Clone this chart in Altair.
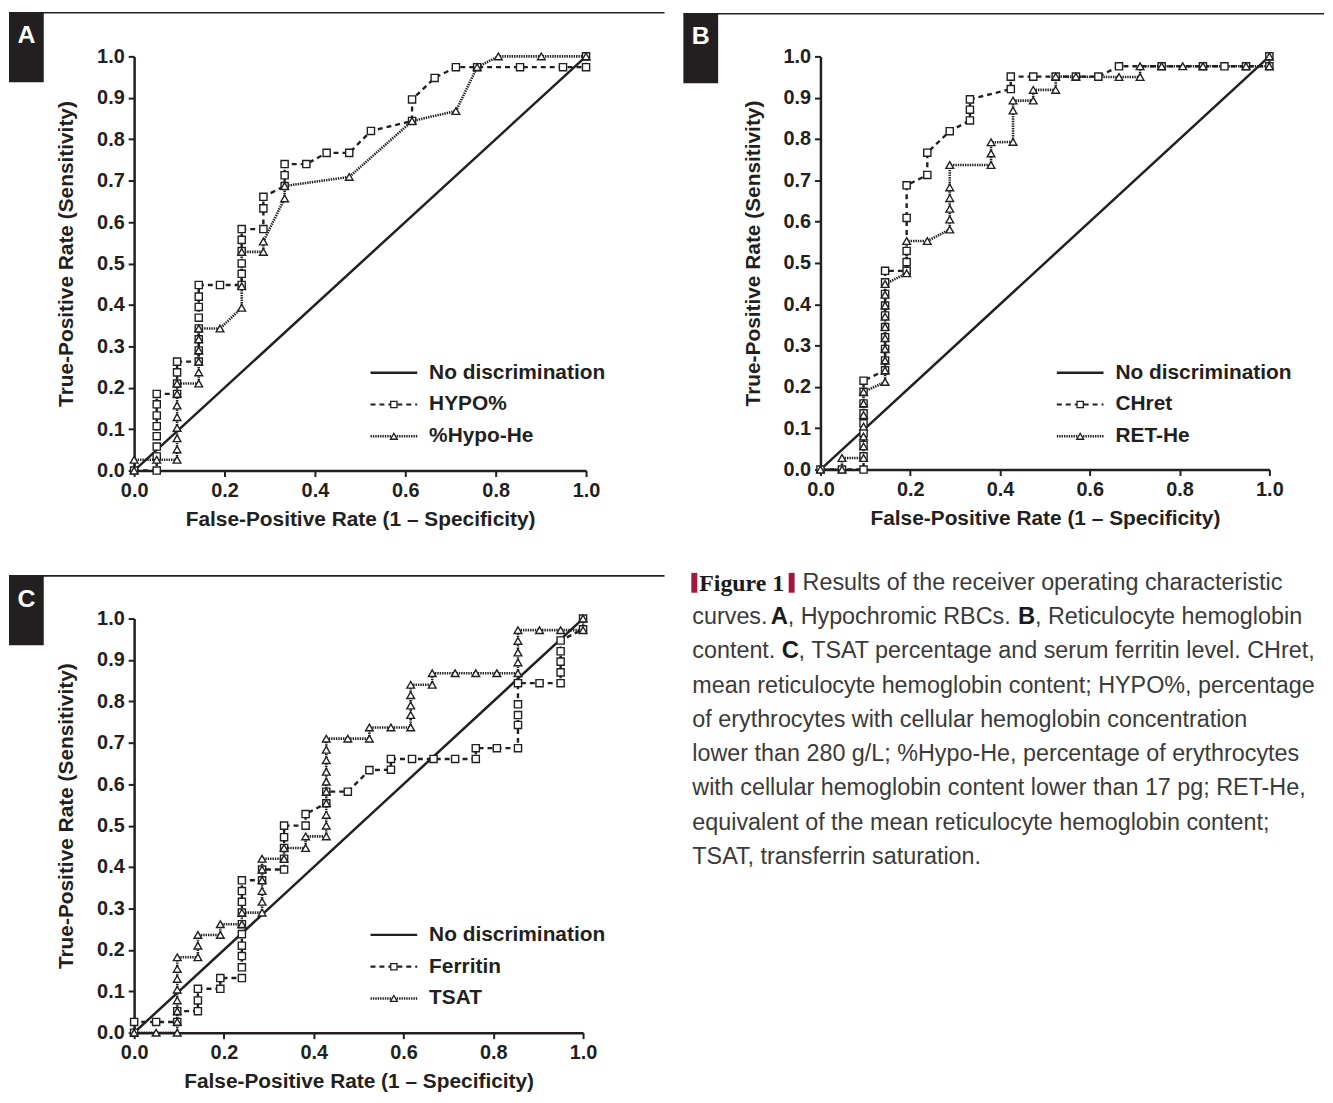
import altair as alt
import pandas as pd

INK = "#231f20"
FONT = "Liberation Sans"
CAP_COLOR = "#3a3a3a"
BAR_COLOR = "#a3193a"

# ---------------- data ----------------
diag_x = [0.0, 1.0]
diag_y = [0.0, 1.0]

# Panel A
a_hypo_x = [0.0, 0.05, 0.05, 0.05, 0.05, 0.05, 0.05, 0.05, 0.05, 0.095, 0.095, 0.095, 0.095,
            0.143, 0.143, 0.143, 0.143, 0.143, 0.143, 0.143, 0.143, 0.19, 0.238, 0.238, 0.238,
            0.238, 0.238, 0.238, 0.286, 0.286, 0.286, 0.333, 0.333, 0.333, 0.381, 0.426, 0.476,
            0.524, 0.615, 0.615, 0.665, 0.712, 0.759, 0.854, 0.949, 1.0, 1.0]
a_hypo_y = [0.0, 0.0, 0.034, 0.058, 0.083, 0.107, 0.133, 0.16, 0.185, 0.185, 0.21, 0.237, 0.263,
            0.263, 0.29, 0.317, 0.343, 0.369, 0.395, 0.42, 0.448, 0.448, 0.448, 0.475, 0.5,
            0.53, 0.557, 0.583, 0.583, 0.633, 0.661, 0.687, 0.713, 0.74, 0.74, 0.767, 0.767,
            0.82, 0.844, 0.896, 0.948, 0.974, 0.974, 0.974, 0.974, 0.974, 1.0]
a_hhe_x = [0.0, 0.0, 0.05, 0.095, 0.095, 0.095, 0.095, 0.095, 0.095, 0.095, 0.095, 0.143, 0.143,
           0.143, 0.143, 0.143, 0.143, 0.19, 0.238, 0.238, 0.238, 0.286, 0.286, 0.333, 0.333,
           0.476, 0.615, 0.712, 0.759, 0.806, 0.901, 1.0]
a_hhe_y = [0.0, 0.026, 0.026, 0.026, 0.051, 0.078, 0.103, 0.129, 0.157, 0.185, 0.21, 0.21, 0.237,
           0.263, 0.29, 0.317, 0.343, 0.343, 0.393, 0.445, 0.528, 0.528, 0.553, 0.657, 0.687,
           0.709, 0.844, 0.868, 0.974, 1.0, 1.0, 1.0]

# Panel B
b_chret_x = [0.0, 0.048, 0.096, 0.096, 0.096, 0.096, 0.096, 0.096, 0.096, 0.096, 0.096, 0.144,
             0.144, 0.144, 0.144, 0.144, 0.144, 0.144, 0.144, 0.144, 0.144, 0.192, 0.192, 0.192,
             0.192, 0.192, 0.238, 0.238, 0.288, 0.333, 0.333, 0.333, 0.424, 0.424, 0.474, 0.524,
             0.569, 0.619, 0.665, 0.76, 0.852, 0.9, 0.948, 1.0, 1.0]
b_chret_y = [0.0, 0.0, 0.0, 0.032, 0.06, 0.088, 0.112, 0.136, 0.16, 0.188, 0.215, 0.24, 0.264,
             0.292, 0.32, 0.345, 0.373, 0.397, 0.425, 0.453, 0.481, 0.481, 0.502, 0.529, 0.609,
             0.688, 0.713, 0.767, 0.819, 0.845, 0.871, 0.896, 0.921, 0.951, 0.951, 0.951, 0.951,
             0.951, 0.976, 0.976, 0.976, 0.976, 0.976, 0.976, 1.0]
b_rethe_x = [0.0, 0.048, 0.048, 0.096, 0.096, 0.096, 0.096, 0.096, 0.096, 0.096, 0.144, 0.144,
             0.144, 0.144, 0.144, 0.144, 0.144, 0.144, 0.144, 0.144, 0.192, 0.192, 0.238, 0.288,
             0.288, 0.288, 0.288, 0.288, 0.288, 0.38, 0.38, 0.38, 0.429, 0.429, 0.429, 0.474,
             0.474, 0.524, 0.524, 0.569, 0.665, 0.712, 0.712, 0.76, 0.807, 0.852, 0.948, 1.0, 1.0]
b_rethe_y = [0.0, 0.0, 0.028, 0.028, 0.056, 0.08, 0.104, 0.132, 0.16, 0.188, 0.212, 0.24, 0.264,
             0.292, 0.318, 0.345, 0.37, 0.397, 0.423, 0.449, 0.475, 0.553, 0.553, 0.581, 0.605,
             0.631, 0.657, 0.683, 0.737, 0.737, 0.765, 0.792, 0.793, 0.869, 0.893, 0.893, 0.919,
             0.919, 0.951, 0.951, 0.95, 0.95, 0.976, 0.976, 0.976, 0.976, 0.976, 0.976, 1.0]

# Panel C
c_ferr_x = [0.0, 0.0, 0.049, 0.096, 0.096, 0.142, 0.142, 0.142, 0.192, 0.192, 0.24, 0.24, 0.24,
            0.24, 0.24, 0.24, 0.24, 0.24, 0.24, 0.24, 0.285, 0.285, 0.334, 0.334, 0.334, 0.334,
            0.334, 0.382, 0.382, 0.428, 0.428, 0.476, 0.524, 0.572, 0.572, 0.619, 0.667, 0.715,
            0.761, 0.761, 0.808, 0.855, 0.855, 0.855, 0.855, 0.855, 0.903, 0.95, 0.95, 0.95,
            0.95, 0.95, 1.0, 1.0]
c_ferr_y = [0.0, 0.026, 0.026, 0.026, 0.052, 0.052, 0.078, 0.106, 0.106, 0.132, 0.132, 0.158,
            0.185, 0.21, 0.238, 0.262, 0.29, 0.316, 0.342, 0.368, 0.368, 0.394, 0.394, 0.42,
            0.446, 0.472, 0.5, 0.5, 0.528, 0.554, 0.582, 0.582, 0.634, 0.635, 0.661, 0.661,
            0.661, 0.661, 0.661, 0.687, 0.687, 0.687, 0.743, 0.767, 0.793, 0.844, 0.844, 0.844,
            0.87, 0.896, 0.921, 0.947, 0.974, 1.0]
c_tsat_x = [0.0, 0.049, 0.096, 0.096, 0.096, 0.096, 0.096, 0.096, 0.096, 0.096, 0.142, 0.142,
            0.142, 0.192, 0.192, 0.24, 0.24, 0.285, 0.285, 0.285, 0.285, 0.285, 0.285, 0.334,
            0.334, 0.382, 0.382, 0.428, 0.428, 0.428, 0.428, 0.428, 0.428, 0.428, 0.428, 0.428,
            0.428, 0.476, 0.524, 0.524, 0.572, 0.616, 0.616, 0.616, 0.616, 0.616, 0.664, 0.664,
            0.715, 0.761, 0.808, 0.855, 0.855, 0.855, 0.855, 0.855, 0.903, 0.95, 1.0, 1.0]
c_tsat_y = [0.0, 0.0, 0.0, 0.026, 0.052, 0.078, 0.104, 0.13, 0.154, 0.182, 0.182, 0.21, 0.236,
            0.236, 0.262, 0.262, 0.29, 0.29, 0.316, 0.342, 0.368, 0.394, 0.42, 0.42, 0.446,
            0.446, 0.474, 0.474, 0.5, 0.526, 0.554, 0.582, 0.606, 0.63, 0.658, 0.683, 0.71,
            0.71, 0.71, 0.737, 0.737, 0.737, 0.767, 0.79, 0.815, 0.84, 0.84, 0.868, 0.868,
            0.868, 0.868, 0.868, 0.894, 0.918, 0.946, 0.972, 0.972, 0.972, 0.972, 1.0]

X_TICKS = [0.0, 0.2, 0.4, 0.6, 0.8, 1.0]
Y_TICKS = [0.0, 0.1, 0.2, 0.3, 0.4, 0.5, 0.6, 0.7, 0.8, 0.9, 1.0]
X_TITLE = "False-Positive Rate (1 \u2013 Specificity)"
Y_TITLE = "True-Positive Rate (Sensitivity)"
NO_DISC = "No discrimination"

caption_plain_lines = [
    "mean reticulocyte hemoglobin content; HYPO%, percentage",
    "of erythrocytes with cellular hemoglobin concentration",
    "lower than 280 g/L; %Hypo-He, percentage of erythrocytes",
    "with cellular hemoglobin content lower than 17 pg; RET-He,",
    "equivalent of the mean reticulocyte hemoglobin content;",
    "TSAT, transferrin saturation.",
]

# ---------------- styles / layout ----------------
DASH = [5, 4]
DOT = [1.4, 1.0]
SQ_SIZE = 52
TRI_SIZE = 60
LEG_ROWS = [318.5, 350.5, 382.5]
LEG_X0, LEG_X1, LEG_MX, LEG_TX = 238, 285, 261.5, 297

CX0, CY0 = 130, 620          # page position of panel C plot origin (as rendered)
CAP_X = 692
CAP_Y0, CAP_DY = 584, 34.5
CAP_SIZE = 23.5

ONE = pd.DataFrame({"k": [0]})


def frame(xs, ys):
    return pd.DataFrame({"x": xs, "y": ys, "i": list(range(len(xs)))})


def vtext(txt, x, y, size, color, weight="normal", font=FONT, align="left"):
    return alt.Chart(ONE).mark_text(
        text=txt, font=font, fontSize=size, fontWeight=weight, color=color,
        align=align, baseline="middle"
    ).encode(x=alt.value(x), y=alt.value(y))


def panel(letter, name1, x1, y1, name2, x2, y2, width, height,
          box_left, rule_right, rule_top, extra=()):
    xenc = alt.X("x:Q", scale=alt.Scale(domain=[0, 1], nice=False),
                 axis=alt.Axis(values=X_TICKS, format=".1f", title=X_TITLE, labelFlush=False))
    yenc = alt.Y("y:Q", scale=alt.Scale(domain=[0, 1], nice=False),
                 axis=alt.Axis(values=Y_TICKS, format=".1f", title=Y_TITLE, labelFlush=False,
                               titleY=height / 2 - 10))

    diag = alt.Chart(frame(diag_x, diag_y)).mark_line(
        color=INK, strokeWidth=2.5).encode(x=xenc, y=yenc, order="i:Q")
    line1 = alt.Chart(frame(x1, y1)).mark_line(
        color=INK, strokeWidth=2.4, strokeDash=DASH).encode(x=xenc, y=yenc, order="i:Q")
    line2 = alt.Chart(frame(x2, y2)).mark_line(
        color=INK, strokeWidth=2.6, strokeDash=DOT).encode(x=xenc, y=yenc, order="i:Q")
    pts1 = alt.Chart(frame(x1, y1)).mark_point(
        shape="square", filled=True, fill="white", stroke=INK, strokeWidth=1.4,
        size=SQ_SIZE, opacity=1).encode(x=xenc, y=yenc)
    pts2 = alt.Chart(frame(x2, y2)).mark_point(
        shape="triangle-up", filled=True, fill="white", stroke=INK, strokeWidth=1.4,
        size=TRI_SIZE, opacity=1).encode(x=xenc, y=yenc)

    # legend
    leg = [
        alt.Chart(ONE).mark_rule(color=INK, strokeWidth=2.5).encode(
            x=alt.value(LEG_X0), x2=alt.value(LEG_X1), y=alt.value(LEG_ROWS[0])),
        alt.Chart(ONE).mark_rule(color=INK, strokeWidth=2.2, strokeDash=DASH).encode(
            x=alt.value(LEG_X0), x2=alt.value(LEG_X1), y=alt.value(LEG_ROWS[1])),
        alt.Chart(ONE).mark_rule(color=INK, strokeWidth=2.4, strokeDash=DOT).encode(
            x=alt.value(LEG_X0), x2=alt.value(LEG_X1), y=alt.value(LEG_ROWS[2])),
        alt.Chart(ONE).mark_point(shape="square", filled=True, fill="white", stroke=INK,
                                  strokeWidth=1.3, size=40, opacity=1).encode(
            x=alt.value(LEG_MX), y=alt.value(LEG_ROWS[1])),
        alt.Chart(ONE).mark_point(shape="triangle-up", filled=True, fill="white", stroke=INK,
                                  strokeWidth=1.3, size=48, opacity=1).encode(
            x=alt.value(LEG_MX), y=alt.value(LEG_ROWS[2])),
    ]
    for lab, ry in zip([NO_DISC, name1, name2], LEG_ROWS):
        leg.append(vtext(lab, LEG_TX, ry, 21, INK, weight="bold"))

    # panel header: top rule, black box, letter
    deco = [
        alt.Chart(ONE).mark_rule(color=INK, strokeWidth=1.6).encode(
            x=alt.value(box_left), x2=alt.value(rule_right), y=alt.value(rule_top)),
        alt.Chart(ONE).mark_rect(color=INK).encode(
            x=alt.value(box_left), x2=alt.value(box_left + 35),
            y=alt.value(rule_top), y2=alt.value(rule_top + 70)),
        vtext(letter, box_left + 17.5, rule_top + 23, 25, "white", weight="bold", align="center"),
    ]
    return alt.layer(diag, line1, line2, pts1, pts2, *leg, *deco, *extra).properties(
        width=width, height=height)


# ---------------- caption (drawn inside panel C's view) ----------------
def cx(v):
    return v - CX0


def cy(k):
    return CAP_Y0 + CAP_DY * k - CY0


cap = [
    alt.Chart(ONE).mark_rect(color=BAR_COLOR).encode(
        x=alt.value(cx(691)), x2=alt.value(cx(697)), y=alt.value(cy(0) - 10), y2=alt.value(cy(0) + 10)),
    alt.Chart(ONE).mark_rect(color=BAR_COLOR).encode(
        x=alt.value(cx(789)), x2=alt.value(cx(795)), y=alt.value(cy(0) - 10), y2=alt.value(cy(0) + 10)),
    vtext("Figure 1", cx(699), cy(0) + 1, 24, "#1a1a1a", weight="bold", font="Liberation Serif"),
    vtext("Results of the receiver operating characteristic", cx(803), cy(0), CAP_SIZE, CAP_COLOR),
    vtext("curves.", cx(CAP_X), cy(1), CAP_SIZE, CAP_COLOR),
    vtext("A", cx(771), cy(1), 24, "#1a1a1a", weight="bold"),
    vtext(", Hypochromic RBCs.", cx(788), cy(1), CAP_SIZE, CAP_COLOR),
    vtext("B", cx(1020), cy(1), 24, "#1a1a1a", weight="bold"),
    vtext(", Reticulocyte hemoglobin", cx(1037), cy(1), CAP_SIZE, CAP_COLOR),
    vtext("content.", cx(CAP_X), cy(2), CAP_SIZE, CAP_COLOR),
    vtext("C", cx(782), cy(2), 24, "#1a1a1a", weight="bold"),
    vtext(", TSAT percentage and serum ferritin level. CHret,", cx(799), cy(2), CAP_SIZE, CAP_COLOR),
]
for k, line in enumerate(caption_plain_lines):
    cap.append(vtext(line, cx(CAP_X), cy(3 + k), CAP_SIZE, CAP_COLOR))

# ---------------- assemble ----------------
chart_a = panel("A", "HYPO%", a_hypo_x, a_hypo_y, "%Hypo-He", a_hhe_x, a_hhe_y,
                455, 417, box_left=-126, rule_right=534, rule_top=-44)
chart_b = panel("B", "CHret", b_chret_x, b_chret_y, "RET-He", b_rethe_x, b_rethe_y,
                452, 416, box_left=-138, rule_right=507, rule_top=-43)
chart_c = panel("C", "Ferritin", c_ferr_x, c_ferr_y, "TSAT", c_tsat_x, c_tsat_y,
                452, 417, box_left=-126, rule_right=534, rule_top=-43, extra=cap)

row1 = alt.hconcat(chart_a, chart_b, spacing=17)
chart = alt.vconcat(row1, chart_c, spacing=42).properties(
    padding={"left": 0, "top": 0, "right": 0, "bottom": 0}
).configure_axis(
    domainColor=INK, domainWidth=2.5, tickColor=INK, tickWidth=2, tickSize=6,
    labelFont=FONT, labelFontSize=20, labelFontWeight="bold", labelColor=INK, labelPadding=4,
    titleFont=FONT, titleFontSize=21, titleFontWeight="bold", titleColor=INK, grid=False
).configure_axisX(titlePadding=8).configure_axisY(titlePadding=20).configure_view(strokeWidth=0)

chart.save("out.html", embed_options={"renderer": "svg", "actions": False})
